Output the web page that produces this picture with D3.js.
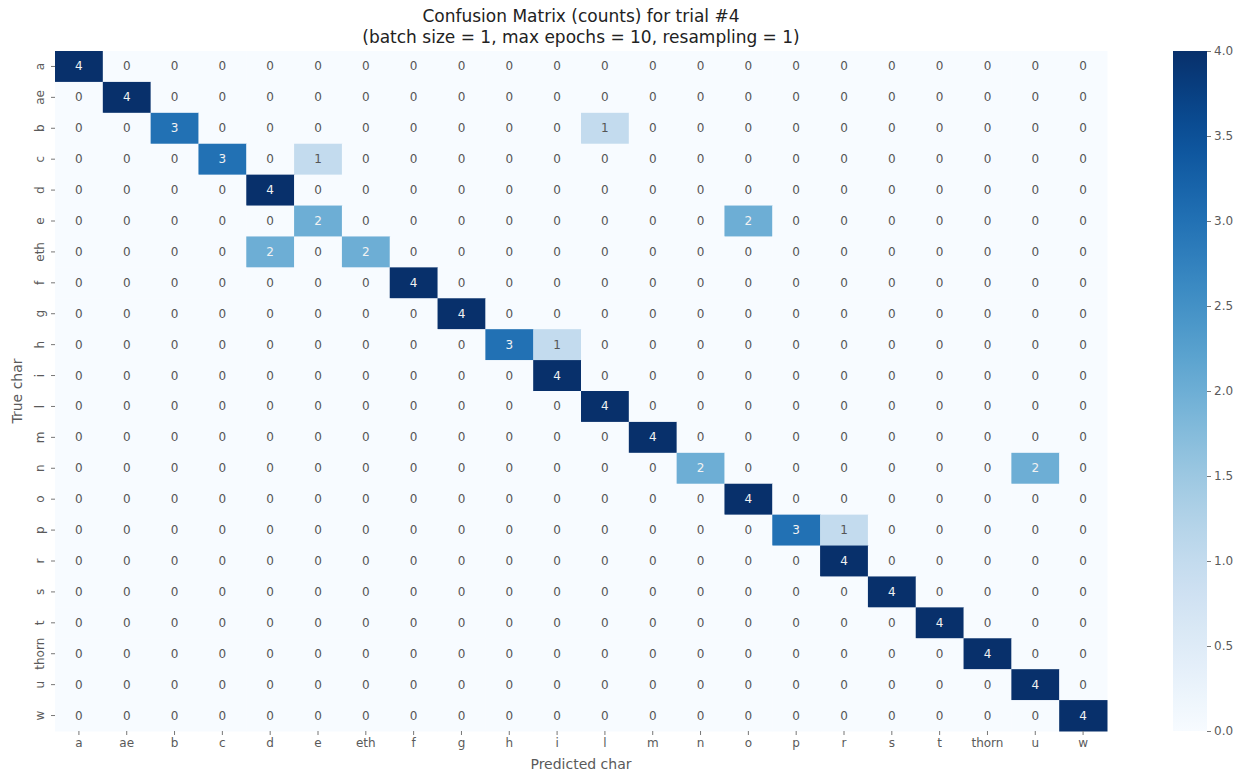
<!DOCTYPE html>
<html>
<head>
<meta charset="utf-8">
<script src="https://cdn.jsdelivr.net/npm/d3@7"></script>
<style>
  html, body { margin: 0; padding: 0; background: #fff; }
  svg { display: block; font-family: "DejaVu Sans", sans-serif; }
</style>
</head>
<body>
<svg id="chart" width="1251" height="774"></svg>
<script>
// Character classes (rows = true, columns = predicted)
const chars = ["a","ae","b","c","d","e","eth","f","g","h","i","l","m","n","o","p","r","s","t","thorn","u","w"];

// Confusion counts, one array per true character
const rowA     = [4,0,0,0,0,0,0,0,0,0,0,0,0,0,0,0,0,0,0,0,0,0];
const rowAe    = [0,4,0,0,0,0,0,0,0,0,0,0,0,0,0,0,0,0,0,0,0,0];
const rowB     = [0,0,3,0,0,0,0,0,0,0,0,1,0,0,0,0,0,0,0,0,0,0];
const rowC     = [0,0,0,3,0,1,0,0,0,0,0,0,0,0,0,0,0,0,0,0,0,0];
const rowD     = [0,0,0,0,4,0,0,0,0,0,0,0,0,0,0,0,0,0,0,0,0,0];
const rowE     = [0,0,0,0,0,2,0,0,0,0,0,0,0,0,2,0,0,0,0,0,0,0];
const rowEth   = [0,0,0,0,2,0,2,0,0,0,0,0,0,0,0,0,0,0,0,0,0,0];
const rowF     = [0,0,0,0,0,0,0,4,0,0,0,0,0,0,0,0,0,0,0,0,0,0];
const rowG     = [0,0,0,0,0,0,0,0,4,0,0,0,0,0,0,0,0,0,0,0,0,0];
const rowH     = [0,0,0,0,0,0,0,0,0,3,1,0,0,0,0,0,0,0,0,0,0,0];
const rowI     = [0,0,0,0,0,0,0,0,0,0,4,0,0,0,0,0,0,0,0,0,0,0];
const rowL     = [0,0,0,0,0,0,0,0,0,0,0,4,0,0,0,0,0,0,0,0,0,0];
const rowM     = [0,0,0,0,0,0,0,0,0,0,0,0,4,0,0,0,0,0,0,0,0,0];
const rowN     = [0,0,0,0,0,0,0,0,0,0,0,0,0,2,0,0,0,0,0,0,2,0];
const rowO     = [0,0,0,0,0,0,0,0,0,0,0,0,0,0,4,0,0,0,0,0,0,0];
const rowP     = [0,0,0,0,0,0,0,0,0,0,0,0,0,0,0,3,1,0,0,0,0,0];
const rowR     = [0,0,0,0,0,0,0,0,0,0,0,0,0,0,0,0,4,0,0,0,0,0];
const rowS     = [0,0,0,0,0,0,0,0,0,0,0,0,0,0,0,0,0,4,0,0,0,0];
const rowT     = [0,0,0,0,0,0,0,0,0,0,0,0,0,0,0,0,0,0,4,0,0,0];
const rowThorn = [0,0,0,0,0,0,0,0,0,0,0,0,0,0,0,0,0,0,0,4,0,0];
const rowU     = [0,0,0,0,0,0,0,0,0,0,0,0,0,0,0,0,0,0,0,0,4,0];
const rowW     = [0,0,0,0,0,0,0,0,0,0,0,0,0,0,0,0,0,0,0,0,0,4];

const counts = [rowA,rowAe,rowB,rowC,rowD,rowE,rowEth,rowF,rowG,rowH,rowI,rowL,
                rowM,rowN,rowO,rowP,rowR,rowS,rowT,rowThorn,rowU,rowW];

const colorbarTicks = [0,0.5,1,1.5,2,2.5,3,3.5,4];

const svg = d3.select("#chart");
const plotLeft = 55, plotTop = 51, plotRight = 1107, plotBottom = 731;
const textGray = "#5a5a5a";

const x = d3.scaleBand().domain(chars).range([plotLeft, plotRight]);
const y = d3.scaleBand().domain(chars).range([plotTop, plotBottom]);
const vmax = 4;
const color = d3.scaleSequential(d3.interpolateBlues).domain([0, vmax]);

// flatten cells
const cells = [];
counts.forEach((row, i) => row.forEach((v, j) => cells.push({t: chars[i], p: chars[j], v})));

svg.append("g").selectAll("rect").data(cells).join("rect")
  .attr("x", d => x(d.p)).attr("y", d => y(d.t))
  .attr("width", x.bandwidth() + 0.5).attr("height", y.bandwidth() + 0.5)
  .attr("fill", d => color(d.v));

// cell annotations: light text on darker cells
svg.append("g").selectAll("text").data(cells).join("text")
  .attr("x", d => x(d.p) + x.bandwidth() / 2)
  .attr("y", d => y(d.t) + y.bandwidth() / 2)
  .attr("text-anchor", "middle").attr("dominant-baseline", "central")
  .attr("font-size", 12)
  .attr("fill", d => {
    const c = d3.rgb(color(d.v));
    const lum = 0.2126 * c.r + 0.7152 * c.g + 0.0722 * c.b;
    return lum < 190 ? "#f2f2f2" : "#555";
  })
  .text(d => d.v);

// x axis
const xAxis = svg.append("g").attr("transform", `translate(0,${plotBottom})`)
  .call(d3.axisBottom(x).tickSize(4).tickPadding(3));
xAxis.select(".domain").remove();
xAxis.selectAll(".tick line").attr("stroke", "#777");
xAxis.selectAll(".tick text").attr("fill", textGray).attr("font-size", 12)
  .attr("font-family", "DejaVu Sans, sans-serif");

// y axis with rotated labels
const yAxis = svg.append("g").attr("transform", `translate(${plotLeft},0)`)
  .call(d3.axisLeft(y).tickSize(4).tickPadding(0));
yAxis.select(".domain").remove();
yAxis.selectAll(".tick line").attr("stroke", "#777");
yAxis.selectAll(".tick text")
  .attr("fill", textGray).attr("font-size", 12)
  .attr("font-family", "DejaVu Sans, sans-serif")
  .attr("x", -15).attr("dy", null)
  .attr("text-anchor", "middle").attr("dominant-baseline", "central")
  .attr("transform", "rotate(-90,-15,0)");

// axis titles
svg.append("text").attr("x", (plotLeft + plotRight) / 2).attr("y", 769)
  .attr("text-anchor", "middle").attr("font-size", 14).attr("fill", textGray)
  .text("Predicted char");
svg.append("text")
  .attr("transform", `translate(22,${(plotTop + plotBottom) / 2}) rotate(-90)`)
  .attr("text-anchor", "middle").attr("font-size", 14).attr("fill", textGray)
  .text("True char");

// title
svg.append("text").attr("x", (plotLeft + plotRight) / 2).attr("y", 22)
  .attr("text-anchor", "middle").attr("font-size", 17).attr("fill", "#222")
  .text("Confusion Matrix (counts) for trial #4");
svg.append("text").attr("x", (plotLeft + plotRight) / 2).attr("y", 43)
  .attr("text-anchor", "middle").attr("font-size", 17).attr("fill", "#222")
  .text("(batch size = 1, max epochs = 10, resampling = 1)");

// colorbar
const cbX = 1173, cbW = 34;
const cbScale = d3.scaleLinear().domain([0, vmax]).range([plotBottom, plotTop]);
const defs = svg.append("defs");
const grad = defs.append("linearGradient").attr("id", "cbgrad")
  .attr("x1", 0).attr("y1", 1).attr("x2", 0).attr("y2", 0);
d3.range(0, 1.0001, 0.05).forEach(t => {
  grad.append("stop").attr("offset", t).attr("stop-color", color(t * vmax));
});
svg.append("rect").attr("x", cbX).attr("y", plotTop).attr("width", cbW)
  .attr("height", plotBottom - plotTop).attr("fill", "url(#cbgrad)");
const cbAxis = svg.append("g").attr("transform", `translate(${cbX + cbW},0)`)
  .call(d3.axisRight(cbScale).tickValues(colorbarTicks).tickFormat(d3.format(".1f"))
    .tickSize(4).tickPadding(3));
cbAxis.select(".domain").remove();
cbAxis.selectAll(".tick line").attr("stroke", "#777");
cbAxis.selectAll(".tick text").attr("fill", textGray).attr("font-size", 12)
  .attr("font-family", "DejaVu Sans, sans-serif");
</script>
</body>
</html>
